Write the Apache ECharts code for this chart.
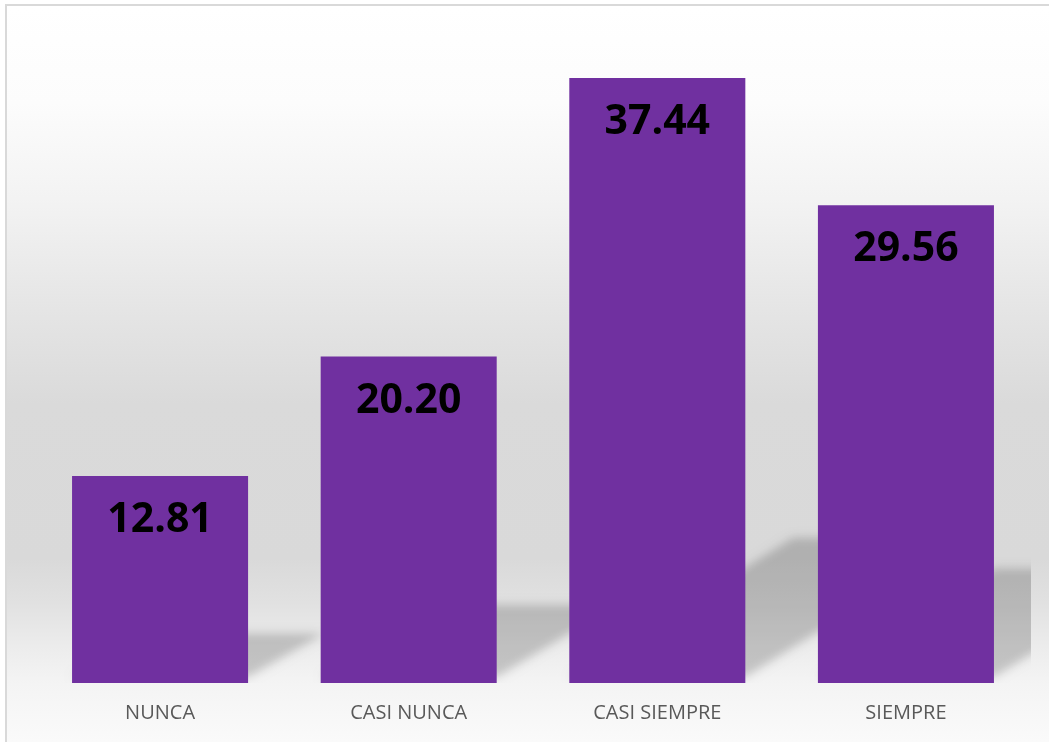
<!DOCTYPE html>
<html>
<head>
<meta charset="utf-8">
<script src="https://cdn.jsdelivr.net/npm/echarts@6/dist/echarts.min.js"></script>
<style>
html,body{margin:0;padding:0;background:#fff;}
#chart{width:1049px;height:742px;}
</style>
</head>
<body>
<div id="chart"></div>
<script>
var categories = ['NUNCA', 'CASI NUNCA', 'CASI SIEMPRE', 'SIEMPRE'];
var values = [12.81, 20.20, 37.44, 29.56];
var yMin = 0;
var yMax = 40;

var chart = echarts.init(document.getElementById('chart'));
var BAR_FRAC = 0.708;
var SHEAR = 0.37, LIFT = 0.24;
var SHIFT = 3000;

var option = {
  animation: false,
  graphic: [
    {
      type: 'rect', z: -10, silent: true,
      shape: { x: 7, y: 7, width: 1042, height: 735 },
      style: {
        fill: new echarts.graphic.LinearGradient(0, 0, 0, 1, [
          { offset: 0.0, color: '#ffffff' },
          { offset: 0.13, color: '#fcfcfc' },
          { offset: 0.26, color: '#f3f3f3' },
          { offset: 0.40, color: '#e6e6e6' },
          { offset: 0.54, color: '#dadada' },
          { offset: 0.75, color: '#d9d9d9' },
          { offset: 0.81, color: '#e1e1e1' },
          { offset: 0.87, color: '#ececec' },
          { offset: 0.92, color: '#f4f4f4' },
          { offset: 1.0, color: '#fafafa' }
        ])
      }
    },
    {
      type: 'rect', z: -9, silent: true,
      shape: { x: 6, y: 5, width: 1060, height: 760 },
      style: { fill: 'none', stroke: '#d9d9d9', lineWidth: 2 }
    }
  ],
  grid: { left: 35.75, right: 18.75, top: 36.6, bottom: 59 },
  xAxis: {
    type: 'category',
    data: categories,
    axisLine: { show: false },
    axisTick: { show: false },
    axisLabel: {
      color: '#595959',
      fontFamily: 'Open Sans',
      fontSize: 20,
      margin: 20
    }
  },
  yAxis: {
    type: 'value',
    min: yMin,
    max: yMax,
    show: false,
    splitLine: { show: false }
  },
  series: [
    {
      type: 'custom',
      z: 1,
      clip: true,
      data: values.map(function (v, i) { return [i, v]; }),
      renderItem: function (params, api) {
        var idx = api.value(0);
        var v = api.value(1);
        var base = api.coord([idx, 0]);
        var top = api.coord([idx, v]);
        var band = api.size([1, 0])[0];
        var w = band * BAR_FRAC;
        var xl = base[0] - w / 2, xr = base[0] + w / 2;
        var y0 = base[1];
        var h = y0 - top[1];
        var pts = [
          [xl - SHIFT, y0 - 6],
          [xr - SHIFT, y0 - 6],
          [xr + SHEAR * h - SHIFT, y0 - LIFT * h],
          [xl + SHEAR * h - SHIFT, y0 - LIFT * h]
        ];
        return {
          type: 'polygon',
          shape: { points: pts },
          style: {
            fill: '#000',
            shadowColor: 'rgba(0,0,0,0.19)',
            shadowBlur: 10,
            shadowOffsetX: SHIFT,
            shadowOffsetY: 0
          }
        };
      }
    },
    {
      type: 'bar',
      z: 2,
      data: values,
      barCategoryGap: '29.2%',
      itemStyle: { color: '#7030A0' },
      label: {
        show: true,
        position: 'insideTop',
        distance: 24,
        color: '#000000',
        fontFamily: 'Open Sans',
        fontWeight: 'bold',
        fontSize: 41,
        formatter: function (p) { return p.value.toFixed(2); }
      }
    }
  ]
};
chart.setOption(option);
</script>
</body>
</html>
